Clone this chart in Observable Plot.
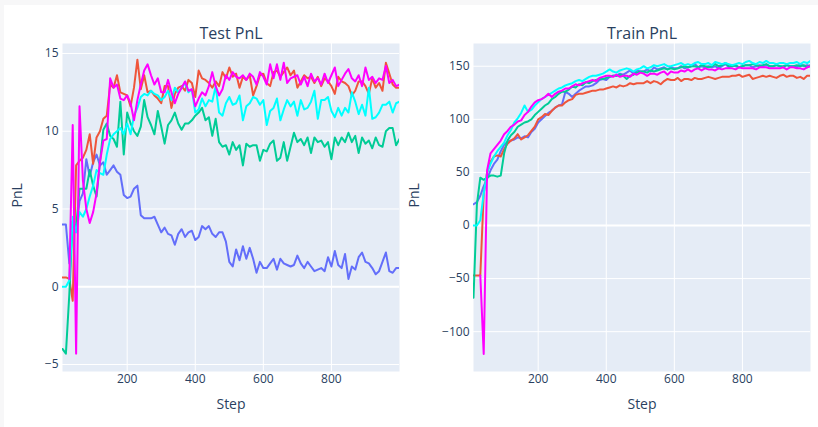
<!DOCTYPE html>
<html>
<head>
<meta charset="utf-8">
<script src="https://cdn.jsdelivr.net/npm/d3@7"></script>
<script src="https://cdn.jsdelivr.net/npm/@observablehq/plot@0.6"></script>
<style>
  html, body { margin: 0; padding: 0; background: #f7f7f8; }
  #page { position: relative; width: 818px; height: 427px; overflow: hidden; }
  #card { position: absolute; left: 4px; top: 5px; width: 814px; height: 422px; background: #ffffff; }
  .chart { position: absolute; top: 0; }
  #left { left: 0; }
  #right { left: 400px; }
</style>
</head>
<body>
<div id="page">
  <div id="card"></div>
  <div id="left" class="chart"></div>
  <div id="right" class="chart"></div>
</div>
<script>
const steps = [10,20,30,40,50,60,70,80,90,100,110,120,130,140,150,160,170,180,190,200,
  210,220,230,240,250,260,270,280,290,300,310,320,330,340,350,360,370,380,390,400,
  410,420,430,440,450,460,470,480,490,500,510,520,530,540,550,560,570,580,590,600,
  610,620,630,640,650,660,670,680,690,700,710,720,730,740,750,760,770,780,790,800,
  810,820,830,840,850,860,870,880,890,900,910,920,930,940,950,960,970,980,990,1000];

const seriesNames = ["run 1", "run 2", "run 3", "run 4", "run 5"];
const seriesColors = ["#636efa", "#ef553b", "#00cc96", "#00ffff", "#ff00ff"];

const testBlue = [4.0,4.0,1.5,4.2,3.5,5.5,6.0,8.2,7.1,8.0, 8.5,7.8,8.0,7.2,7.5,7.8,7.4,7.2,5.9,5.7,
  5.8,6.3,6.5,4.6,4.4,4.4,4.4,4.5,4.0,3.5, 3.8,3.4,3.3,2.7,3.4,3.7,3.2,3.5,3.6,3.0,
  3.2,3.9,3.7,3.9,3.4,3.2,3.5,3.5,2.9,1.6, 1.3,2.4,1.7,2.6,1.8,2.5,1.8,0.9,1.6,1.2,
  1.2,1.5,1.8,1.1,1.8,1.5,1.4,1.3,1.4,2.0, 1.5,1.2,1.6,1.3,1.0,1.1,1.2,1.0,1.9,1.3,
  2.3,1.4,1.2,2.1,0.5,1.3,1.1,1.9,2.2,1.6, 1.5,1.2,0.8,1.0,1.6,2.2,1.0,0.9,1.2,1.2];
const testRed = [0.6,0.6,0.5,-0.9,7.8,8.1,8.3,8.8,9.8,7.9, 9.6,10.0,10.8,11.0,13.0,12.8,13.6,12.5,12.4,12.3,
  11.6,12.8,14.6,12.7,13.6,12.5,12.6,12.3,12.1,11.8, 12.9,12.9,11.5,12.4,12.8,12.9,12.6,13.3,13.1,12.2,
  13.9,13.4,13.3,13.1,12.8,13.2,12.9,13.8,13.4,14.1, 13.5,13.7,12.8,13.5,13.3,13.6,12.3,12.9,13.6,13.7,
  13.1,12.9,13.8,13.9,13.5,13.8,14.1,13.6,13.9,12.8, 13.2,13.6,13.4,13.5,13.1,13.5,12.9,13.4,13.2,12.9,
  12.4,13.5,13.2,13.1,12.9,12.3,12.6,13.2,13.2,12.9, 12.4,13.4,12.8,13.1,12.6,14.4,13.7,13.0,12.8,12.8];
const testGreen = [-4.0,-4.3,-0.5,4.2,3.8,6.3,6.3,6.3,7.5,6.5, 5.8,8.0,10.1,10.5,9.7,9.5,9.0,11.9,8.5,11.2,
  10.5,10.0,9.7,10.3,12.0,10.9,10.4,9.8,11.3,10.3, 9.2,10.4,10.7,11.2,10.5,10.1,10.5,10.5,10.7,11.0,
  11.2,11.5,10.7,10.9,9.7,10.8,9.3,9.0,9.1,8.5, 9.3,8.8,9.1,7.8,9.2,9.0,9.1,9.1,8.1,8.8,
  8.7,9.2,9.4,8.1,8.3,9.3,8.1,9.0,9.9,9.3, 9.5,9.1,9.6,8.6,9.6,9.3,9.4,9.0,9.3,8.2,
  9.6,9.1,9.6,9.3,9.9,9.3,9.7,8.6,9.6,9.2, 9.4,8.9,9.6,9.1,9.0,10.0,10.2,10.2,9.1,9.5];
const testCyan = [0.0,0.0,0.4,4.5,3.5,4.8,4.5,5.0,5.8,6.5, 7.5,7.3,7.2,8.5,9.5,9.8,10.0,10.2,9.8,10.5,
  9.8,11.0,11.5,12.2,12.4,12.3,12.6,12.4,12.3,12.0, 12.2,12.6,12.0,12.8,12.5,12.8,13.1,12.5,12.7,11.2,
  11.4,12.1,11.6,12.0,11.9,12.9,11.2,11.0,11.8,12.2, 11.7,11.8,12.3,10.7,11.6,11.8,12.2,12.1,11.7,12.0,
  10.4,11.3,11.5,12.1,10.7,11.4,12.0,11.6,11.9,11.0, 12.0,11.4,11.5,11.9,12.6,10.8,12.0,12.0,12.2,11.3,
  10.9,11.5,11.0,11.5,11.2,12.5,11.9,11.1,11.7,11.0, 12.8,10.8,10.9,11.2,11.7,11.7,11.9,11.2,11.8,11.9];
const testMagenta = [null,null,0.5,10.4,-4.3,11.6,6.8,5.0,4.1,4.8, 6.0,8.0,9.4,9.5,13.4,12.8,13.0,12.1,12.0,12.3,
  11.8,10.7,12.0,13.0,13.9,14.3,13.6,13.0,13.4,12.5, 12.5,13.3,12.5,11.8,12.4,12.8,13.2,12.6,12.7,11.6,
  12.1,12.5,12.3,12.9,13.8,12.9,12.3,12.7,13.6,13.3, 13.8,13.5,13.4,13.6,13.3,13.7,13.5,13.0,13.8,13.5,
  13.0,14.3,13.4,14.3,13.3,14.4,13.1,13.4,13.5,13.6, 13.0,13.5,12.9,13.7,13.2,13.4,13.0,13.7,13.1,13.6,
  14.1,12.9,13.3,13.7,14.0,13.4,13.2,13.6,12.9,14.1, 13.3,13.5,13.1,13.4,13.3,14.2,13.1,13.3,12.9,13.0];

const trainBlue = [20,22,28,37,44,52,58,62,70,76, 79,80,81,83,82,84,83,88,91,97,
  100,103,106,108,111,113,114,126,124,121, 124,127,129,131,131,132,134,137,138,137,
  140,141,141,143,142,144,146,143,146,145, 145,147,145,149,147,148,149,147,149,148,
  148,150,148,149,150,152,149,150,149,150, 149,150,148,150,152,149,151,150,149,150,
  151,151,149,150,151,150,151,150,150,151, 150,149,151,150,150,149,152,150,151,150];
const trainRed = [-47,-47,-47,30,50,60,65,66,65,72, 77,80,82,86,81,83,85,89,93,100,
  102,105,104,108,111,113,113,116,118,119, 123,124,124,125,126,127,127,128,128,129,
  130,131,130,132,131,132,134,133,134,134, 134,136,134,136,135,133,136,138,137,137,
  139,136,138,138,137,139,138,138,139,140, 139,138,139,140,140,140,141,141,142,140,
  141,142,138,139,140,141,140,141,140,139, 141,142,140,141,141,139,140,138,141,141];
const trainGreen = [-68,20,45,43,45,47,47,46,47,68, 80,85,88,93,95,97,98,100,104,107,
  110,113,115,119,121,124,126,126,128,131, 130,133,132,135,134,136,137,138,138,139,
  140,141,141,142,141,138,141,142,144,145, 145,144,146,145,146,147,148,147,148,147,
  148,149,150,149,150,150,149,151,150,149, 150,152,150,151,153,150,150,151,149,150,
  151,151,152,151,150,151,152,150,150,151, 150,150,151,150,150,151,150,151,149,151];
const trainCyan = [0,0,5,30,50,58,65,70,74,78, 85,90,97,101,106,113,107,109,113,116,
  119,121,123,125,127,129,130,132,133,134, 136,137,136,138,140,141,141,142,143,145,
  147,145,144,146,147,148,147,145,147,148, 150,148,149,151,150,151,152,150,150,151,
  152,153,151,152,151,153,154,152,152,153, 151,154,153,152,153,152,151,152,153,152,
  154,155,153,152,154,153,155,153,153,152, 153,153,152,153,153,154,152,154,153,155];
const trainMagenta = [null,null,-47,-121,52,68,72,76,80,86, 89,93,95,98,99,104,107,112,116,118,
  119,121,124,121,124,126,127,129,129,131, 133,132,134,135,136,137,136,139,140,141,
  141,140,142,140,141,141,140,143,142,144, 143,141,143,143,142,144,145,142,145,144,
  144,146,145,147,145,147,148,146,148,147, 147,146,148,147,148,148,148,147,149,148,
  148,148,148,147,149,149,149,148,148,148, 148,149,147,149,149,148,148,147,149,150];

const xTicks = [200, 400, 600, 800];
const testTicks = [-5, 0, 5, 10, 15];
const trainTicks = [-100, -50, 0, 50, 100, 150];

function toRows(arrays) {
  const rows = [];
  arrays.forEach((arr, k) => {
    arr.forEach((v, i) => rows.push({step: steps[i], value: v, name: seriesNames[k]}));
  });
  return rows;
}

const FONT = "'Open Sans', 'Noto Sans', sans-serif";
const INK = "#2a3f5f";

function chart({title, arrays, yDomain, yTicks, width, marginLeft, marginRight, ylabelDx}) {
  const rows = toRows(arrays);
  return Plot.plot({
    width,
    height: 427,
    marginTop: 43,
    marginBottom: 56,
    marginLeft,
    marginRight,
    style: {background: "transparent", fontFamily: FONT, color: INK, overflow: "visible"},
    x: {domain: [10, 1000]},
    y: {domain: yDomain},
    color: {type: "ordinal", domain: seriesNames, range: seriesColors},
    marks: [
      Plot.frame({fill: "#e5ecf6", stroke: null}),
      Plot.gridX(xTicks, {stroke: "white", strokeOpacity: 1, strokeWidth: 1}),
      Plot.gridY(yTicks, {stroke: "white", strokeOpacity: 1, strokeWidth: 1}),
      Plot.ruleY([0], {stroke: "white", strokeWidth: 2}),
      Plot.axisX(xTicks, {tickSize: 0, tickPadding: 3, fontSize: 12, label: null, fill: INK}),
      Plot.axisY(yTicks, {tickSize: 0, tickPadding: 4, fontSize: 12, label: null, fill: INK,
        tickFormat: d => d < 0 ? "\u2212" + Math.abs(d) : String(d)}),
      Plot.line(rows, {x: "step", y: "value", z: "name", stroke: "name", strokeWidth: 2, clip: true, curve: "linear"}),
      Plot.text([title], {frameAnchor: "top", lineAnchor: "middle", dy: -10, fontSize: 16, fill: INK}),
      Plot.text(["Step"], {frameAnchor: "bottom", lineAnchor: "middle", dy: 33, fontSize: 14, fill: INK}),
      Plot.text(["PnL"], {frameAnchor: "left", lineAnchor: "middle", dx: ylabelDx, rotate: -90, fontSize: 14, fill: INK})
    ]
  });
}

document.getElementById("left").appendChild(chart({
  title: "Test PnL",
  arrays: [testBlue, testRed, testGreen, testCyan, testMagenta],
  yDomain: [-5.45, 15.64],
  yTicks: testTicks,
  width: 409,
  marginLeft: 62,
  marginRight: 10,
  ylabelDx: -45
}));

document.getElementById("right").appendChild(chart({
  title: "Train PnL",
  arrays: [trainBlue, trainRed, trainGreen, trainCyan, trainMagenta],
  yDomain: [-137.5, 171.4],
  yTicks: trainTicks,
  width: 418,
  marginLeft: 73,
  marginRight: 8,
  ylabelDx: -59
}));
</script>
</body>
</html>
